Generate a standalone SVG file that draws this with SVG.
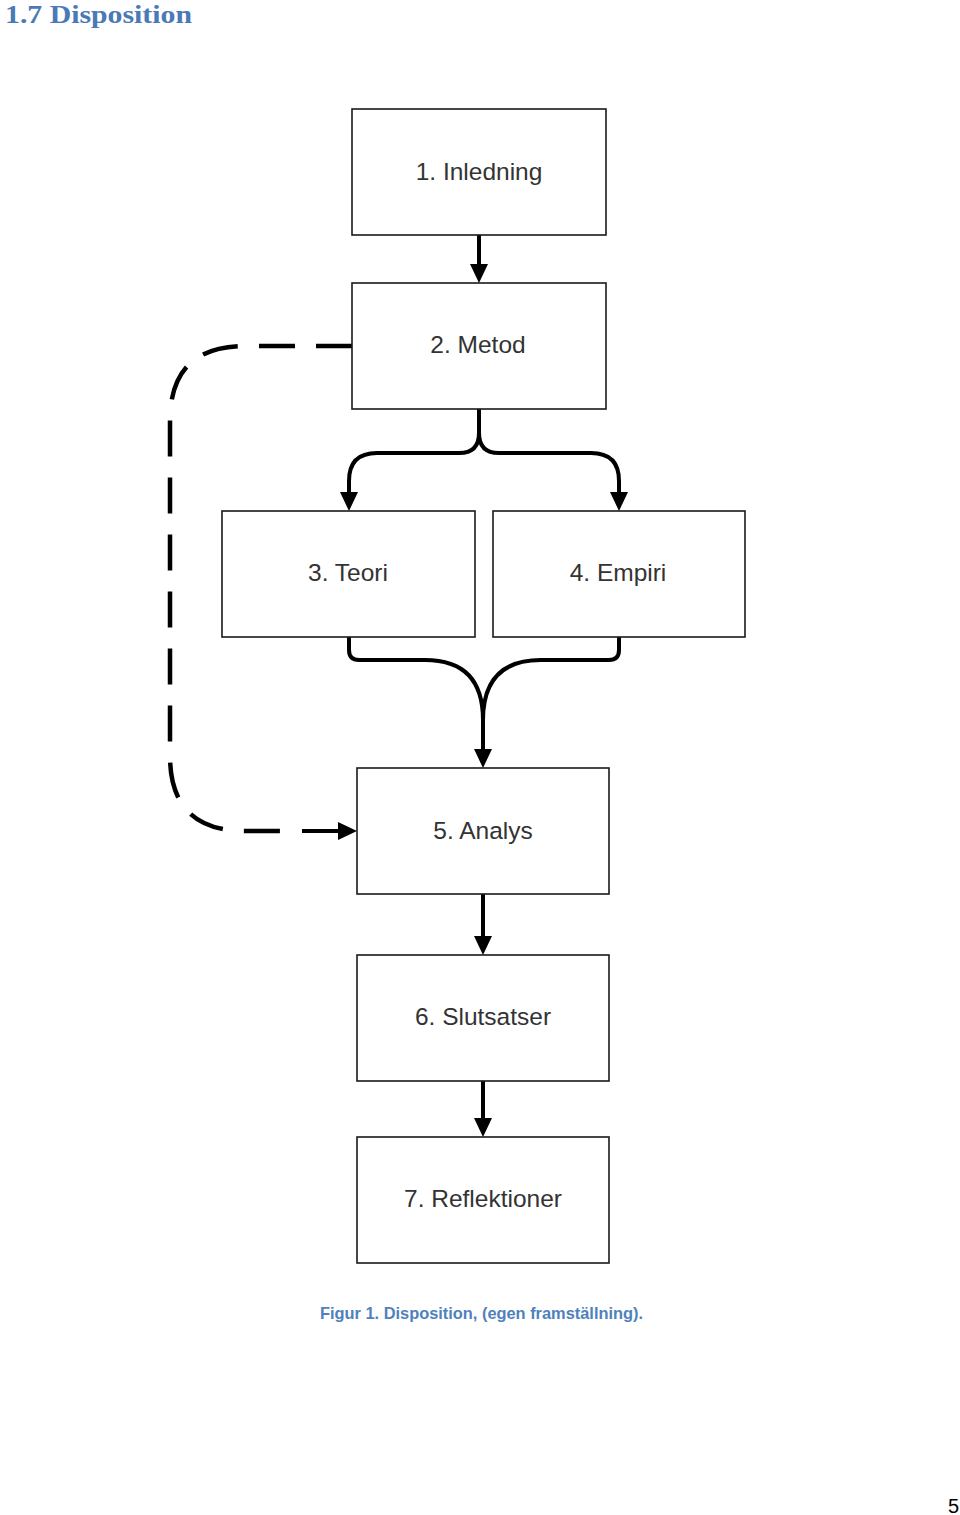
<svg xmlns="http://www.w3.org/2000/svg" width="960" height="1515" viewBox="0 0 960 1515">
<style>
.box{fill:#fff;stroke:#1a1a1a;stroke-width:1.6}
.lbl{font-family:"Liberation Sans",Arial,sans-serif;font-size:24.5px;fill:#333;text-anchor:middle}
.con{fill:none;stroke:#000;stroke-width:4}
.dash{fill:none;stroke:#000;stroke-width:4.5;stroke-dasharray:36 21}
</style>
<defs>
<marker id="ah" markerUnits="userSpaceOnUse" markerWidth="22" markerHeight="20" refX="9" refY="9" orient="auto">
<path d="M0,0 L19,9 L0,18 z" fill="#000"/>
</marker>
</defs>
<rect width="960" height="1515" fill="#fff"/>
<text x="5" y="23" font-family="'Liberation Serif',serif" font-weight="bold" font-size="26" fill="#4a7ab5" textLength="187" lengthAdjust="spacingAndGlyphs">1.7 Disposition</text>

<g id="connectors">
<path class="con" d="M479,235 V273" marker-end="url(#ah)"/>
<path class="con" d="M479,409 V433 Q479,453 459,453 H377 Q349,453 349,481 V501" marker-end="url(#ah)"/>
<path class="con" d="M479,433 Q479,453 499,453 H591 Q619,453 619,481 V501" marker-end="url(#ah)"/>
<path class="con" d="M349,637 V650 Q349,660 359,660 H425 Q483,660 483,720 V758" marker-end="url(#ah)"/>
<path class="con" d="M619,637 V650 Q619,660 609,660 H541 Q483,660 483,720"/>
<path class="con" d="M483,894 V945" marker-end="url(#ah)"/>
<path class="con" d="M483,1081 V1127" marker-end="url(#ah)"/>
<path class="dash" d="M352,346 H245 Q170,346 170,421 V756 Q170,831 245,831 H282"/>
<path class="con" d="M302,831 H347" stroke-width="4.5" marker-end="url(#ah)"/>
</g>

<g id="n1"><rect class="box" x="352" y="109" width="254" height="126"/><text class="lbl" x="479" y="180">1. Inledning</text></g>
<g id="n2"><rect class="box" x="352" y="283" width="254" height="126"/><text class="lbl" x="478" y="353">2. Metod</text></g>
<g id="n3"><rect class="box" x="222" y="511" width="253" height="126"/><text class="lbl" x="348" y="581">3. Teori</text></g>
<g id="n4"><rect class="box" x="493" y="511" width="252" height="126"/><text class="lbl" x="618" y="581">4. Empiri</text></g>
<g id="n5"><rect class="box" x="357" y="768" width="252" height="126"/><text class="lbl" x="483" y="839">5. Analys</text></g>
<g id="n6"><rect class="box" x="357" y="955" width="252" height="126"/><text class="lbl" x="483" y="1025">6. Slutsatser</text></g>
<g id="n7"><rect class="box" x="357" y="1137" width="252" height="126"/><text class="lbl" x="483" y="1207">7. Reflektioner</text></g>

<text x="320" y="1319" font-family="'Liberation Sans',Arial,sans-serif" font-weight="bold" font-size="17" fill="#4f81bd" textLength="323" lengthAdjust="spacingAndGlyphs">Figur 1. Disposition, (egen framställning).</text>
<text x="959" y="1513" font-family="'Liberation Sans',Arial,sans-serif" font-size="20" fill="#000" text-anchor="end">5</text>
</svg>
